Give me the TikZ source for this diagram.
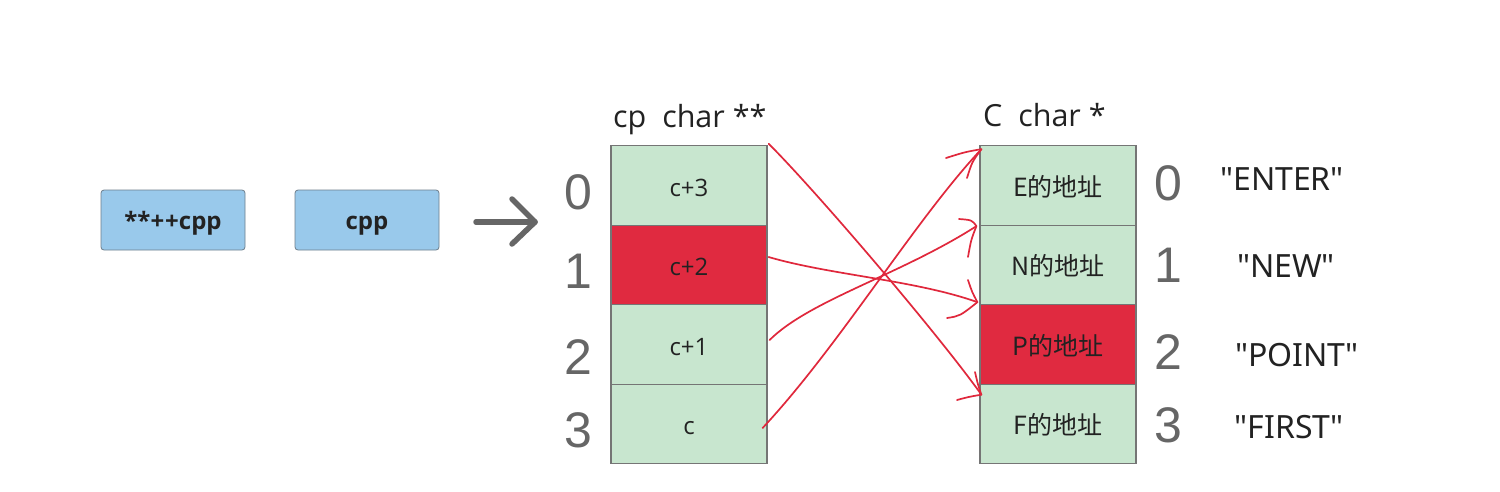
\documentclass[tikz,border=0pt]{standalone}
\usepackage{fontspec}
\setmainfont{Open Sans}
\newfontfamily\cjk{Noto Sans CJK SC}
\newfontfamily\digitfont{Liberation Sans}
\newfontfamily\strfont{Noto Sans}
\definecolor{cellgreen}{HTML}{C8E6CF}
\definecolor{cellred}{HTML}{E02A40}
\definecolor{cellborder}{HTML}{757575}
\definecolor{boxblue}{HTML}{99C9EB}
\definecolor{boxborder}{HTML}{6E7F8D}
\definecolor{idxgray}{HTML}{666666}
\definecolor{inkred}{HTML}{E0283C}
\definecolor{txt}{HTML}{222222}
\newcommand{\dq}{\symbol{34}}
\tikzset{
  cell/.style={draw=cellborder, line width=1.2pt, minimum width=156pt, minimum height=79.5pt, inner sep=0pt, text height=21pt, text depth=0pt, font=\fontsize{24}{26}\selectfont, text=txt},
  gcell/.style={cell, fill=cellgreen},
  rcell/.style={cell, fill=cellred},
  ccell/.style={font=\cjk\fontsize{25}{27}\selectfont, text height=21.5pt},
  bluebox/.style={draw=boxborder, line width=0.8pt, fill=boxblue, rounded corners=3pt, minimum width=144pt, minimum height=60pt, inner sep=0pt, text height=19pt, text depth=0pt, font=\bfseries\fontsize{24}{26}\selectfont, text=txt},
  idx/.style={font=\digitfont\fontsize{50}{50}\selectfont, text=idxgray, inner sep=0pt},
  head/.style={font=\fontsize{30.5}{32}\selectfont, text=txt, inner sep=0pt, anchor=base west},
  strl/.style={font=\strfont\fontsize{32}{34}\selectfont, text=txt, inner sep=0pt},
  ink/.style={draw=inkred, line width=1.7pt, line cap=round, line join=round},
  bigarrow/.style={draw=idxgray, line width=5.5pt, line cap=round, line join=round}
}
\begin{document}
\begin{tikzpicture}[x=1pt,y=-1pt]
\useasboundingbox[fill=white] (0,0) rectangle (1500,491);
% blue boxes
\node[bluebox] (b1) at (173,220) {**+\kern1pt+cpp};
\node[bluebox] (b2) at (367,220) {cpp};
% big arrow
\coordinate (a0) at (476,222);
\coordinate (a1) at (535,222);
\draw[bigarrow] (a0) -- (a1);
\draw[bigarrow] (512,199) -- (a1) -- (512,244);
% left array
\node[gcell] (L0) at (689,185.5) {c+3};
\node[rcell] (L1) at (689,265) {c+2};
\node[gcell] (L2) at (689,344.5) {c+1};
\node[gcell] (L3) at (689,424) {c};
\node[head] (hl) at (613,127) {cp\ \ char **};
\node[idx] (li0) at (578,192) {0};
\node[idx] (li1) at (578,271) {1};
\node[idx] (li2) at (578,357) {2};
\node[idx] (li3) at (578,430) {3};
% right array
\node[gcell,ccell] (R0) at (1058,185.5) {E的地址};
\node[gcell,ccell] (R1) at (1058,265) {N的地址};
\node[rcell,ccell] (R2) at (1058,344.5) {P的地址};
\node[gcell,ccell] (R3) at (1058,424) {F的地址};
\node[head] (hr) at (983,126) {C\ \ char *};
\node[idx] (ri0) at (1168,183) {0};
\node[idx] (ri1) at (1168,265) {1};
\node[idx] (ri2) at (1168,352) {2};
\node[idx] (ri3) at (1168,425) {3};
\node[strl] (s0) at (1282,179) {\dq ENTER\dq};
\node[strl] (s1) at (1286,266) {\dq NEW\dq};
\node[strl] (s2) at (1297,355) {\dq POINT\dq};
\node[strl] (s3) at (1289,427) {\dq FIRST\dq};
% red hand-drawn arrows
\coordinate (tA) at ([shift={(2,11)}]R3.north west);
\coordinate (tB) at ([shift={(-2,-2)}]R2.north west);
\coordinate (tC) at ([shift={(-3,1.5)}]R1.north west);
\coordinate (tD) at ([shift={(2,4)}]R0.north west);
\draw[ink] ([shift={(1,-1.5)}]L0.north east) .. controls (815,190) and (935,330) .. (tA);
\draw[ink] (975,372) .. controls (978,385) .. (tA) .. controls (968,397) .. (957,400);
\draw[ink] ([shift={(1,-8)}]L1.east) .. controls (830,275) and (915,280) .. (tB);
\draw[ink] (968,280) .. controls (972,292) .. (tB) .. controls (960,316) .. (947,318);
\draw[ink] ([shift={(2,-4.5)}]L2.east) .. controls (810,300) and (900,275) .. (tC);
\draw[ink] (959,219) .. controls (972,220) .. (tC) .. controls (971,240) .. (968,257);
\draw[ink] ([shift={(-5,4)}]L3.east) .. controls (840,345) and (915,220) .. (tD);
\draw[ink] (946,158) .. controls (965,152) .. (tD) .. controls (972,162) .. (967,178);
\end{tikzpicture}
\end{document}
